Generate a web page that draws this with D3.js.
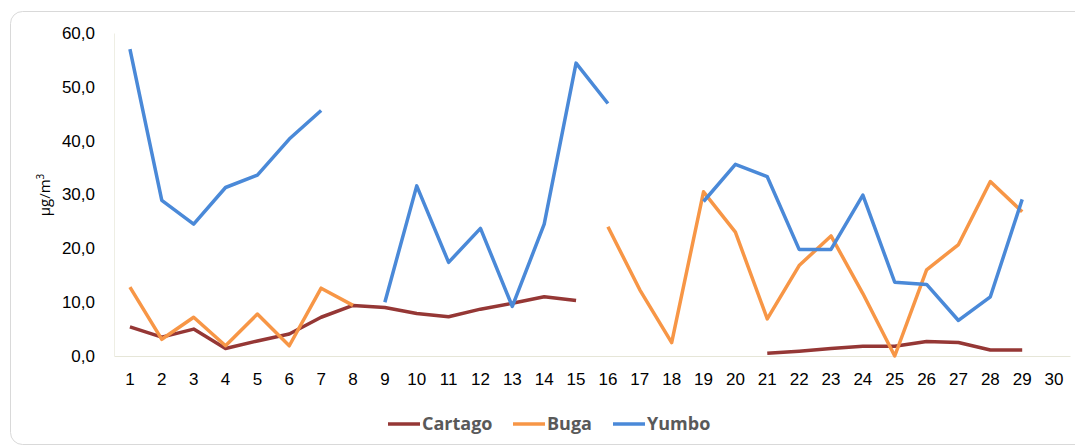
<!DOCTYPE html>
<html lang="es">
<head>
  <meta charset="UTF-8">
  <title>Concentraciones</title>
  <script src="https://d3js.org/d3.v7.min.js"></script>
  <style>
    body { margin: 0; background: #fff; }
    svg { display: block; font-family: "Open Sans", "DejaVu Sans", sans-serif; }
    .tick text { font-size: 17px; fill: #000; }
    .legend text { font-size: 18px; font-weight: bold; fill: #595959; }
  </style>
</head>
<body>
  <svg width="1075" height="446"></svg>

  <script>
    // days 1..30
    const days = d3.range(1, 31);
    const yTicks = [0, 10, 20, 30, 40, 50, 60];

    const cartago = [5.4, 3.5, 5.0, 1.4, 2.8, 4.1, 7.2, 9.4, 9.0, 7.9, 7.3, 8.7, 9.8, 11.0, 10.3,
      null, null, null, null, null, 0.5, 0.9, 1.4, 1.8, 1.8, 2.7, 2.5, 1.1, 1.1, null];
    const buga = [12.8, 3.1, 7.2, 1.9, 7.8, 1.9, 12.6, 9.4, null, null, null, null, null, null, null,
      24.0, 12.3, 2.5, 30.5, 23.0, 6.9, 16.8, 22.3, 11.6, 0.0, 16.0, 20.7, 32.4, 26.8, null];
    const yumbo = [57.0, 28.9, 24.5, 31.3, 33.6, 40.3, 45.6, null, 10.0, 31.6, 17.4, 23.7, 9.2, 24.5, 54.4,
      46.9, null, null, 28.7, 35.6, 33.3, 19.8, 19.8, 29.9, 13.7, 13.3, 6.6, 11.0, 29.1, null];

    const series = [
      { name: "Cartago", values: cartago, color: "#953735" },
      { name: "Buga", values: buga, color: "#f79646" },
      { name: "Yumbo", values: yumbo, color: "#4a89d8" }
    ];

    const svg = d3.select("svg");

    // outer frame
    svg.append("rect")
      .attr("x", 10.5).attr("y", 11.5)
      .attr("width", 1080).attr("height", 433)
      .attr("rx", 12)
      .attr("fill", "none")
      .attr("stroke", "#d9d9d9");

    const plotLeft = 114, plotRight = 1070, plotTop = 33, plotBottom = 356;

    const x = d3.scaleBand().domain(days).range([plotLeft, plotRight]);
    const y = d3.scaleLinear().domain([0, 60]).range([plotBottom, plotTop]);

    // axes
    const xAxis = svg.append("g")
      .attr("transform", `translate(0,${plotBottom})`)
      .call(d3.axisBottom(x).tickSize(0).tickPadding(17));
    xAxis.select(".domain").attr("stroke", "#e6e6d8");

    const yAxis = svg.append("g")
      .attr("transform", `translate(${plotLeft},0)`)
      .call(d3.axisLeft(y).tickValues(yTicks).tickSize(0).tickPadding(19)
        .tickFormat(d => d3.format(".1f")(d).replace(".", ",")));
    yAxis.select(".domain").attr("stroke", "#eeeee4");

    // y title
    const yt = svg.append("text")
      .attr("transform", "translate(50,195) rotate(-90)")
      .attr("text-anchor", "middle")
      .attr("font-size", 15)
      .attr("fill", "#000");
    yt.append("tspan").text("µg/m");
    yt.append("tspan").attr("font-size", 10).attr("dy", -6).text("3");

    const line = d3.line()
      .defined(d => d != null)
      .x((d, i) => x(days[i]) + x.bandwidth() / 2)
      .y(d => y(d));

    svg.selectAll(".series")
      .data(series)
      .join("path")
      .attr("class", "series")
      .attr("fill", "none")
      .attr("stroke", d => d.color)
      .attr("stroke-width", 3.5)
      .attr("stroke-linejoin", "round")
      .attr("d", d => line(d.values));

    // legend
    const legendX = [388, 513, 613];
    const legend = svg.append("g").attr("class", "legend");
    series.forEach((s, i) => {
      const g = legend.append("g").attr("transform", `translate(${legendX[i]},424)`);
      g.append("line")
        .attr("x1", 0).attr("x2", 32)
        .attr("stroke", s.color)
        .attr("stroke-width", 3.5);
      g.append("text")
        .attr("x", 34).attr("dy", "0.35em")
        .text(s.name);
    });
  </script>
</body>
</html>
